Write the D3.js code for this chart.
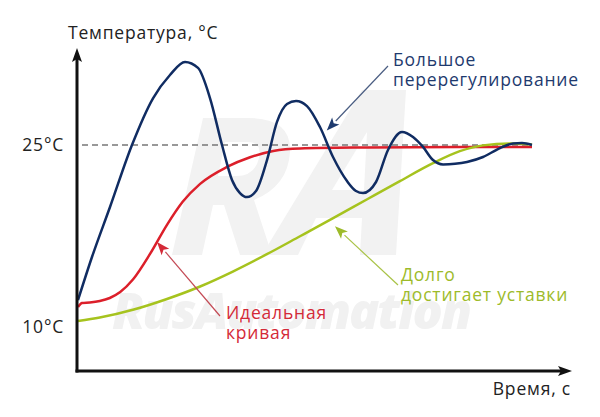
<!DOCTYPE html>
<html>
<head>
<meta charset="utf-8">
<script src="https://cdn.jsdelivr.net/npm/d3@7"></script>
<style>
  html, body { margin: 0; padding: 0; background: #fff; }
  svg { display: block; }
  text { font-family: "Open Sans", "Noto Sans", sans-serif; }
</style>
</head>
<body>
<svg id="chart" width="600" height="417"></svg>
<script>
// ---- data (time in arbitrary units 0..100, temperature in °C) ----
const overshootT = [0, 3.08, 7.05, 11.89, 16.52, 20.26, 23.57, 26.43, 29.07, 31.72, 33.92, 35.68, 37.22, 39.21, 41.63, 43.83, 46.04, 48.02, 50.44, 53.30, 56.17, 59.25, 61.23, 62.78, 65.64, 68.28, 71.37, 73.79, 75.99, 78.19, 80.40, 83.04, 85.68, 89.21, 92.95, 95.81, 97.80, 100];
const overshootV = [12.22, 15.77, 19.89, 25.0, 28.85, 30.77, 31.84, 31.35, 28.87, 25.0, 22.12, 21.04, 20.71, 21.21, 23.76, 26.90, 28.38, 28.63, 28.21, 26.48, 24.01, 22.03, 21.21, 21.04, 21.95, 24.59, 26.07, 25.66, 24.84, 23.76, 23.40, 23.45, 23.60, 24.01, 24.75, 25.12, 25.16, 25.0];

const idealT = [0, 0.9, 2.6, 4.8, 7.0, 9.3, 12.1, 15.9, 19.6, 23.1, 26.9, 32.8, 37.9, 43.0, 48.9, 63.7, 84.1, 100];
const idealV = [11.65, 11.98, 12.02, 12.14, 12.39, 12.88, 13.91, 16.04, 18.42, 20.34, 21.80, 23.19, 23.99, 24.51, 24.72, 24.80, 24.84, 24.84];

const slowT = [0, 4.8, 12.3, 19.6, 26.9, 34.1, 41.6, 48.9, 56.2, 63.7, 70.9, 78.2, 84.1, 89.2, 95.2, 100];
const slowV = [10.49, 10.78, 11.44, 12.31, 13.34, 14.57, 16.0, 17.48, 18.97, 20.53, 22.02, 23.5, 24.49, 24.97, 25.13, 25.04];

const setpoint = 25;
const yTicks = [10, 25];
const tickLabels = ["10°C", "25°C"];
const yTitle = "Температура, °C";
const xTitle = "Время, с";
const labelOvershoot = ["Большое", "перерегулирование"];
const labelIdeal = ["Идеальная", "кривая"];
const labelSlow = ["Долго", "достигает уставки"];
const watermark = "RusAutomation";
// points on curves the annotation arrows point at [time, temp]
const arrowOvershoot = [54.8, 26.2];
const arrowIdeal = [17.4, 17.0];
const arrowSlow = [56.6, 18.3];

// ---- drawing ----
const svg = d3.select("#chart");
const x = d3.scaleLinear().domain([0, 100]).range([78, 532]);
const y = d3.scaleLinear().domain([10, 25]).range([327, 145]);

const axisLeftX = 77, axisBottomY = 371, axisTopY = 48, axisRightX = 572;
const FS = 17.5, LS = 0.8;

const colBlue = "#102c62", colRed = "#dc1f2a", colGreen = "#a6c31e";

// watermark logo (faint shapes) and text
const wm = svg.append("g");
wm.append("path").attr("fill", "#f2f2f2")
  .attr("d", "M172,255 L202,255 L213,205 L224,205 L240,255 L272,255 L254,200 Q288,186 290,152 Q292,118 248,118 L203,118 Z");
wm.append("path").attr("fill", "#fff")
  .attr("d", "M225,142 L248,142 Q262,142 259,158 Q255,176 236,176 L218,176 Z");
wm.append("path").attr("fill", "#f2f2f2")
  .attr("d", "M262,255 L298,255 L316,218 L362,218 L360,255 L396,255 L406,90 L362,90 Z");
wm.append("path").attr("fill", "#fff")
  .attr("d", "M332,190 L364,190 L367,132 Z");
wm.append("text").attr("x", 112).attr("y", 329)
  .attr("font-size", 50).attr("font-weight", 800).attr("font-style", "italic")
  .attr("letter-spacing", -2).attr("fill", "#f1f1f1")
  .text(watermark);

// dashed setpoint line
svg.append("line")
  .attr("x1", 82).attr("x2", x(100))
  .attr("y1", y(setpoint)).attr("y2", y(setpoint))
  .attr("stroke", "#777").attr("stroke-width", 1.5)
  .attr("stroke-dasharray", "6,4");

const line = d3.line().x(d => x(d[0])).y(d => y(d[1])).curve(d3.curveMonotoneX);

function series(ts, vs) { return ts.map((t, i) => [t, vs[i]]); }

svg.append("path").datum(series(idealT, idealV)).attr("d", line)
  .attr("fill", "none").attr("stroke", colRed).attr("stroke-width", 2.5);
svg.append("path").datum(series(slowT, slowV)).attr("d", line)
  .attr("fill", "none").attr("stroke", colGreen).attr("stroke-width", 2.5);
svg.append("path").datum(series(overshootT, overshootV)).attr("d", line)
  .attr("fill", "none").attr("stroke", colBlue).attr("stroke-width", 2.5);

// axes
const axisG = svg.append("g");
axisG.append("line").attr("x1", axisLeftX).attr("x2", axisLeftX)
  .attr("y1", axisBottomY + 1.5).attr("y2", axisTopY + 10)
  .attr("stroke", "#111").attr("stroke-width", 3);
axisG.append("path")
  .attr("d", `M${axisLeftX},${axisTopY} L${axisLeftX - 5},${axisTopY + 14} L${axisLeftX},${axisTopY + 11} L${axisLeftX + 5},${axisTopY + 14} Z`)
  .attr("fill", "#111");
axisG.append("line").attr("x1", axisLeftX - 1.5).attr("x2", axisRightX - 10)
  .attr("y1", axisBottomY).attr("y2", axisBottomY)
  .attr("stroke", "#111").attr("stroke-width", 3);
axisG.append("path")
  .attr("d", `M${axisRightX},${axisBottomY} L${axisRightX - 14},${axisBottomY - 5} L${axisRightX - 11},${axisBottomY} L${axisRightX - 14},${axisBottomY + 5} Z`)
  .attr("fill", "#111");

// tick labels
svg.selectAll("text.tick").data(yTicks).enter().append("text")
  .attr("class", "tick")
  .attr("x", 64).attr("y", d => y(d))
  .attr("dy", "0.35em")
  .attr("text-anchor", "end")
  .attr("font-size", FS).attr("letter-spacing", LS).attr("fill", "#222")
  .text((d, i) => tickLabels[i]);

svg.append("text").attr("x", 68).attr("y", 39)
  .attr("font-size", FS).attr("letter-spacing", LS).attr("fill", "#222").text(yTitle);
svg.append("text").attr("x", 571).attr("y", 395)
  .attr("text-anchor", "end")
  .attr("font-size", FS).attr("letter-spacing", LS).attr("fill", "#222").text(xTitle);

// annotations
function annotate(lines, tx, ty, color, lineColor, fromX, fromY, target) {
  const g = svg.append("g");
  lines.forEach((s, i) => {
    g.append("text").attr("x", tx).attr("y", ty + i * 20)
      .attr("font-size", FS).attr("letter-spacing", LS).attr("fill", color).text(s);
  });
  const tipX = x(target[0]), tipY = y(target[1]);
  const ang = Math.atan2(tipY - fromY, tipX - fromX);
  const L = 13, W = 5;
  const bx = tipX - L * Math.cos(ang), by = tipY - L * Math.sin(ang);
  g.append("line").attr("x1", fromX).attr("y1", fromY).attr("x2", bx).attr("y2", by)
    .attr("stroke", lineColor).attr("stroke-width", 1.2);
  const px = -Math.sin(ang), py = Math.cos(ang);
  g.append("path")
    .attr("d", `M${tipX},${tipY} L${bx + px * W},${by + py * W} L${bx + 3 * Math.cos(ang)},${by + 3 * Math.sin(ang)} L${bx - px * W},${by - py * W} Z`)
    .attr("fill", color);
}

annotate(labelOvershoot, 393, 66, "#1e3a6e", "#4a5d82", 388, 66, arrowOvershoot);
annotate(labelIdeal, 226, 319, "#d42a38", "#c44a55", 220, 316, arrowIdeal);
annotate(labelSlow, 401, 281, "#9dbb2a", "#a9c346", 398, 285, arrowSlow);
</script>
</body>
</html>
